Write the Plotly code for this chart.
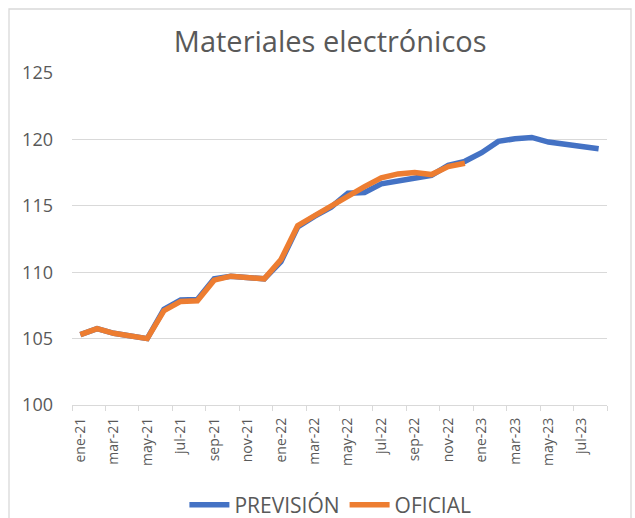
import plotly.graph_objects as go

months = ["ene-21","feb-21","mar-21","abr-21","may-21","jun-21","jul-21","ago-21","sep-21","oct-21","nov-21","dic-21",
          "ene-22","feb-22","mar-22","abr-22","may-22","jun-22","jul-22","ago-22","sep-22","oct-22","nov-22","dic-22",
          "ene-23","feb-23","mar-23","abr-23","may-23","jun-23","jul-23","ago-23"]

prevision = [105.3, 105.75, 105.4, 105.25, 105.0, 107.2, 107.9, 107.95, 109.5, 109.7, 109.65, 109.5,
             110.8, 113.4, 114.2, 114.9, 115.95, 116.0, 116.65, 116.9, 117.1, 117.3, 118.05, 118.35,
             119.0, 119.85, 120.05, 120.15, 119.8, 119.6, 119.5, 119.3]

oficial = [105.3, 105.75, 105.4, 105.25, 105.0, 107.1, 107.8, 107.85, 109.4, 109.7, 109.65, 109.5,
           110.95, 113.5, 114.25, 115.0, 115.8, 116.45, 117.1, 117.4, 117.5, 117.35, 117.95, 118.2]

tick_labels = months[::2]
y_ticks = [100, 105, 110, 115, 120, 125]

FONT = "Open Sans"
GREY = "#595959"
LINE = "#d9d9d9"

x_prev = list(range(len(prevision)))
x_ofi = list(range(len(oficial)))

fig = go.Figure()
fig.add_trace(go.Scatter(x=x_prev, y=prevision, mode="lines", name="PREVISIÓN",
                         line=dict(color="#4472C4", width=5.5)))
fig.add_trace(go.Scatter(x=x_ofi, y=oficial, mode="lines", name="OFICIAL",
                         line=dict(color="#ED7D31", width=5.5)))

L, R, T, B = 72, 28, 73, 113
W, H = 635, 518
pw = W - L - R
ph = H - T - B

fig.update_layout(
    width=W, height=H, autosize=False,
    margin=dict(l=L, r=R, t=T, b=B, autoexpand=False),
    paper_bgcolor="white", plot_bgcolor="white",
    font=dict(family=FONT, color=GREY),
    title=dict(text="Materiales electrónicos", x=0.52, xanchor="center",
               y=1 - 42 / H, yanchor="middle", yref="container",
               font=dict(family=FONT, size=29, color=GREY)),
    xaxis=dict(range=[-0.5, len(months) - 0.5], automargin=False,
               tickmode="array", tickvals=list(range(0, len(months), 2)), ticktext=tick_labels,
               tickangle=-90, ticks="", showgrid=False, zeroline=False,
               showline=True, linecolor=LINE, linewidth=1.3, ticklabelstandoff=6,
               tickfont=dict(family=FONT, size=14, color=GREY),
               minor=dict(tickmode="array", tickvals=[i - 0.5 for i in range(0, len(months) + 1, 2)],
                          ticks="outside", ticklen=5, tickcolor=LINE, tickwidth=1.3, showgrid=False)),
    yaxis=dict(range=[100, 125], tickvals=y_ticks, showgrid=True, gridcolor=LINE, gridwidth=1.3,
               zeroline=False, showline=False, ticks="", automargin=False, ticklabelstandoff=18,
               tickfont=dict(family=FONT, size=18, color=GREY)),
    showlegend=True,
    legend=dict(orientation="h", x=0.483, xanchor="center", y=(405 - 505) / ph, yanchor="middle",
                font=dict(family=FONT, size=21, color=GREY), traceorder="normal",
                itemwidth=40, tracegroupgap=0, bgcolor="rgba(0,0,0,0)"),
    shapes=[dict(type="rect", xref="paper", yref="paper",
                 x0=(9 - L) / pw, x1=(631 - L) / pw,
                 y0=(H - B - 540) / ph, y1=(H - B - 9) / ph,
                 line=dict(color=LINE, width=1.3), fillcolor="rgba(0,0,0,0)", layer="below")],
)

fig.write_html("out.html", config={"displayModeBar": False},
               post_script="document.body.style.margin='0';document.body.style.overflow='hidden';")
